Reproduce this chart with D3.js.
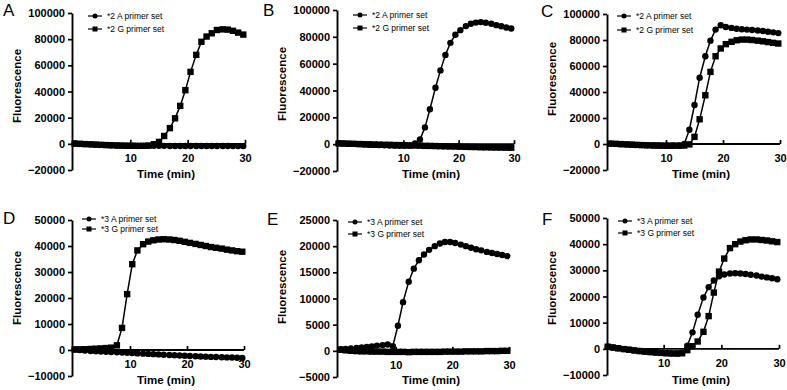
<!DOCTYPE html>
<html>
<head>
<meta charset="utf-8">
<script src="https://cdn.jsdelivr.net/npm/d3@7"></script>
<style>
  body { margin: 0; background: #fff; }
  svg { display: block; font-family: "Liberation Sans", Arial, sans-serif; }
</style>
</head>
<body>
<svg width="787" height="390"></svg>
<script>
// sampling times (min), shared by most panels
const times = [0.3, 1.2, 2.1, 3.1, 4.0, 4.9, 5.8, 6.7, 7.7, 8.6, 9.5, 10.4, 11.3, 12.3, 13.2, 14.1, 15.0,
  15.9, 16.9, 17.8, 18.7, 19.6, 20.5, 21.5, 22.4, 23.3, 24.2, 25.1, 26.1, 27.0, 27.9, 28.8, 29.7];
// panel B starts right at its y axis
const timesB = [-1.7, -0.8, 0.1, 1.0, 2.0, 2.9, 3.8, 4.7, 5.6, 6.6, 7.5, 8.4, 9.3, 10.2, 11.2, 12.1, 13.0,
  13.9, 14.8, 15.8, 16.7, 17.6, 18.5, 19.4, 20.3, 21.3, 22.2, 23.1, 24.0, 24.9, 25.9, 26.8, 27.7, 28.6, 29.5];

// A
const a_2A = [200, 0, -200, -400, -600, -800, -950, -1100, -1250, -1350, -1450, -1500, -1550, -1550, -1550, -1550, -1550,
  -1550, -1600, -1600, -1600, -1600, -1650, -1650, -1650, -1650, -1700, -1700, -1700, -1700, -1750, -1750, -1750];
const a_2G = [200, 0, -200, -400, -600, -800, -950, -1100, -1250, -1350, -1450, -1500, -1550, -1500, -1300, -300, 1500,
  6000, 12000, 19500, 29000, 41000, 55000, 68000, 78000, 82000, 84500, 87000, 87500, 87300, 86400, 85000, 83500];
// B
const b_2A = [800, 600, 400, 200, 0, -200, -400, -550, -700, -850, -1000, -1100, -1200, -1250, -1100, 500, 3500,
  12500, 26000, 42000, 55000, 66500, 75500, 81500, 85000, 88000, 89700, 90600, 91000, 90500, 89700, 88700, 87900, 87000, 86200];
const b_2G = [500, 450, 300, 250, 100, 0, -100, -250, -300, -450, -500, -650, -700, -800, -950, -1000, -1100,
  -1250, -1300, -1400, -1500, -1600, -1700, -1750, -1900, -2000, -2100, -2150, -2300, -2350, -2450, -2500, -2550, -2600, -2650];
// C
const c_2A = [300, 100, -100, -300, -500, -700, -850, -1000, -1100, -1200, -1250, -1250, -1200, -1100, 0, 11000, 30000,
  51000, 67500, 79500, 88000, 91300, 90000, 89300, 88700, 88300, 88000, 87700, 87300, 86900, 86400, 85900, 85300];
const c_2G = [300, 100, -100, -300, -500, -700, -850, -1000, -1100, -1200, -1250, -1300, -1300, -1300, -1200, -300, 5500,
  19000, 37500, 55500, 67500, 73500, 76800, 78600, 79800, 80300, 80300, 80000, 79500, 79000, 78400, 77800, 77300];
// D
const d_3A = [200, 0, -200, -400, -500, -600, -700, -800, -900, -1000, -1100, -1200, -1300, -1400, -1500, -1600, -1700,
  -1800, -1900, -2000, -2100, -2200, -2300, -2400, -2500, -2550, -2650, -2700, -2800, -2850, -2900, -3000, -3050];
const d_3G = [200, 250, 300, 400, 500, 600, 750, 900, 1800, 8500, 21500, 33000, 38300, 40700, 41700, 42200, 42500,
  42600, 42500, 42300, 42000, 41600, 41200, 40800, 40400, 40000, 39600, 39300, 39000, 38600, 38300, 38000, 37800];
// E
const e_3A = [300, 350, 450, 550, 650, 750, 850, 1000, 1100, 1200, 900, 4800, 9300, 13200, 15700, 17300, 18400,
  19300, 20000, 20500, 20800, 20800, 20600, 20300, 20000, 19700, 19400, 19200, 18900, 18700, 18500, 18300, 18100];
const e_3G = [200, 100, 0, -50, -100, -100, -150, -150, -150, -200, -200, -200, -200, -250, -200, -200, -200,
  -200, -200, -200, -150, -150, -150, -150, -100, -100, -100, -100, -50, -50, -50, 0, 0];
// F
const f_3A = [800, 500, 200, -100, -350, -600, -850, -1050, -1250, -1400, -1550, -1650, -1750, -1800, -1500, 1200, 6300,
  13000, 19600, 23600, 26100, 27700, 28400, 28800, 28900, 28800, 28600, 28300, 28000, 27600, 27300, 27000, 26600];
const f_3G = [800, 500, 200, -100, -350, -600, -850, -1050, -1250, -1400, -1550, -1650, -1750, -1800, -1700, -500, 1000,
  2800, 6500, 12500, 21500, 29500, 34500, 38500, 40000, 41000, 41500, 41800, 41800, 41600, 41400, 41100, 40800];

const xTicks = [10, 20, 30];
const yTicksTop = [-20000, 0, 20000, 40000, 60000, 80000, 100000];
const yTicksD = [-10000, 0, 10000, 20000, 30000, 40000, 50000];
const yTicksE = [-5000, 0, 5000, 10000, 15000, 20000, 25000];

const panels = [
  { letter: "A", lx: 3, ly: 16, axisX: 72, x: [0, 30], xr: [73, 245], y: [-20000, 100000], yr: [170, 13], yTicks: yTicksTop,
    t: times, series: [["*2 A primer set", a_2A, "circle"], ["*2 G primer set", a_2G, "square"]],
    legX: 88, legY: [16, 29], titleY: 178, fluoY: 86 },
  { letter: "B", lx: 263, ly: 16, axisX: 337, x: [-2, 30], xr: [337, 514], y: [-20000, 100000], yr: [171, 10], yTicks: yTicksTop,
    t: timesB, series: [["*2 A primer set", b_2A, "circle"], ["*2 G primer set", b_2G, "square"]],
    legX: 353, legY: [15, 28], titleY: 178, fluoY: 84 },
  { letter: "C", lx: 541, ly: 17, axisX: 607, x: [0, 30], xr: [609, 780], y: [-20000, 100000], yr: [170, 14], yTicks: yTicksTop,
    t: times, series: [["*2 A primer set", c_2A, "circle"], ["*2 G primer set", c_2G, "square"]],
    legX: 617, legY: [16, 30], titleY: 178, fluoY: 79 },
  { letter: "D", lx: 3, ly: 224, axisX: 72, x: [0, 30], xr: [73, 244], y: [-10000, 50000], yr: [376, 220], yTicks: yTicksD,
    t: times, series: [["*3 A primer set", d_3A, "circle"], ["*3 G primer set", d_3G, "square"]],
    legX: 82, legY: [219, 229], titleY: 384, fluoY: 288 },
  { letter: "E", lx: 267, ly: 225, axisX: 337, x: [0, 30], xr: [339, 509], y: [-5000, 25000], yr: [377, 220], yTicks: yTicksE,
    t: times, series: [["*3 A primer set", e_3A, "circle"], ["*3 G primer set", e_3G, "square"]],
    legX: 348, legY: [222, 234], titleY: 384, fluoY: 287 },
  { letter: "F", lx: 542, ly: 225, axisX: 607, x: [0, 30], xr: [606, 779], y: [-10000, 50000], yr: [375, 218], yTicks: yTicksD,
    t: times, series: [["*3 A primer set", f_3A, "circle"], ["*3 G primer set", f_3G, "square"]],
    legX: 618, legY: [221, 233], titleY: 384, fluoY: 288 }
];

const svg = d3.select("svg");

function marker(g, shape, cx, cy, s) {
  if (shape === "circle") {
    g.append("circle").attr("cx", cx).attr("cy", cy).attr("r", s).attr("fill", "#000");
  } else {
    g.append("rect").attr("x", cx - s).attr("y", cy - s).attr("width", 2 * s).attr("height", 2 * s).attr("fill", "#000");
  }
}

panels.forEach(p => {
  const g = svg.append("g");
  const x = d3.scaleLinear().domain(p.x).range(p.xr);
  const y = d3.scaleLinear().domain(p.y).range(p.yr);

  // y axis
  const yAxis = g.append("g")
    .attr("transform", `translate(${p.axisX},0)`)
    .call(d3.axisLeft(y).tickValues(p.yTicks).tickSize(4).tickSizeOuter(0).tickPadding(3).tickFormat(d3.format("d")));

  // x axis along y = 0, ticks point up
  const xAxis = g.append("g")
    .attr("transform", `translate(0,${y(0)})`)
    .call(d3.axisBottom(x).tickValues(xTicks).tickSize(-4).tickSizeOuter(0).tickPadding(10));
  xAxis.select(".domain").attr("d", `M${p.axisX},0H${p.xr[1]}`);

  [yAxis, xAxis].forEach(a => {
    a.select(".domain").attr("stroke", "#000").attr("stroke-width", 1.9);
    a.selectAll(".tick line").attr("stroke", "#000").attr("stroke-width", 1.7);
    a.selectAll(".tick text").attr("fill", "#000").attr("font-size", 11).attr("font-weight", "bold")
      .attr("font-family", "'Liberation Sans', Arial, sans-serif");
  });

  // series
  p.series.forEach(([name, vals, shape]) => {
    const pts = vals.map((v, i) => [p.t[i], v]);
    g.append("path")
      .datum(pts)
      .attr("fill", "none")
      .attr("stroke", "#000")
      .attr("stroke-width", 1.5)
      .attr("d", d3.line().x(d => x(d[0])).y(d => y(d[1])));
    pts.forEach(d => marker(g, shape, x(d[0]), y(d[1]), 3.2));
  });

  // legend
  p.series.forEach(([name, vals, shape], i) => {
    const ly = p.legY[i];
    g.append("line").attr("x1", p.legX).attr("x2", p.legX + 14).attr("y1", ly).attr("y2", ly)
      .attr("stroke", "#000").attr("stroke-width", 1.2);
    marker(g, shape, p.legX + 7, ly, 2.5);
    g.append("text").attr("x", p.legX + 19).attr("y", ly + 3).attr("font-size", 8.5).text(name);
  });

  // titles
  g.append("text").attr("x", p.axisX + 94).attr("y", p.titleY).attr("text-anchor", "middle")
    .attr("font-size", 11.5).attr("font-weight", "bold").text("Time (min)");
  g.append("text").attr("transform", `translate(${p.axisX - 51},${p.fluoY}) rotate(-90)`)
    .attr("text-anchor", "middle").attr("font-size", 11.5).attr("font-weight", "bold").text("Fluorescence");
  g.append("text").attr("x", p.lx).attr("y", p.ly).attr("font-size", 17).text(p.letter);
});
</script>
</body>
</html>
